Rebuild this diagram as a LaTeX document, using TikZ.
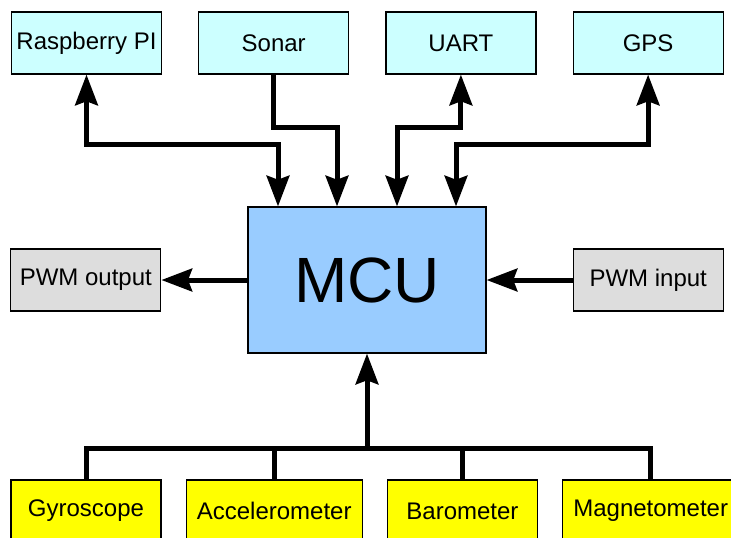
\documentclass[tikz,border=0pt]{standalone}
\usepackage{fontspec}
\setmainfont{Liberation Sans}
\usepackage{xcolor}
\usetikzlibrary{arrows.meta,positioning}

\definecolor{periphfill}{HTML}{CCFFFF}
\definecolor{mcufill}{HTML}{99CCFF}
\definecolor{pwmfill}{HTML}{DDDDDD}
\definecolor{sensorfill}{HTML}{FFFF00}

\begin{document}
\begin{tikzpicture}[
  x=0.75pt, y=-0.75pt,
  node distance=27pt,
  >={Stealth[length=23pt,width=17pt,inset=3pt]},
  box/.style={draw, line width=0.9pt, minimum width=112.5pt, minimum height=46.5pt, inner xsep=2pt, align=center, font=\fontsize{18}{20}\selectfont},
  periph/.style={box, fill=periphfill},
  pwm/.style={box, fill=pwmfill},
  sensor/.style={box, inner xsep=8pt, fill=sensorfill},
  mcubox/.style={draw, line width=0.9pt, fill=mcufill, minimum width=178.5pt, minimum height=109.5pt, font=\fontsize{48}{52}\selectfont},
  arr/.style={line width=3.75pt}
]
  \useasboundingbox (0,0) rectangle (731,537);

  % core
  \node[mcubox] (mcu) at (367,280) {MCU};

  % top row
  \node[periph] (rpi) at (86.5,43) {Raspberry PI};
  \node[periph, right=of rpi] (sonar) {Sonar};
  \node[periph, right=of sonar] (uart) {UART};
  \node[periph, right=of uart] (gps) {GPS};

  % sides
  \node[pwm, left=64.5pt of mcu] (pwmout) {PWM output};
  \node[pwm, right=64.5pt of mcu] (pwmin) {PWM input};

  % sensors
  \node[sensor] (gyro) at (86,511) {Gyroscope};
  \node[sensor, right=18pt of gyro] (accel) {Accelerometer};
  \node[sensor, right=18pt of accel] (baro) {Barometer};
  \node[sensor, right=18pt of baro] (magneto) {Magnetometer};

  \coordinate (outer) at (0,144);
  \coordinate (inner) at (0,127);
  \coordinate (bus) at (0,448);

  \draw[arr, <->] (rpi.south) -- (rpi.south |- outer) -| ([xshift=-66.75pt]mcu.north);
  \draw[arr, ->] (sonar.south) -- (sonar.south |- inner) -| ([xshift=-22.5pt]mcu.north);
  \draw[arr, <->] (uart.south) -- (uart.south |- inner) -| ([xshift=22.5pt]mcu.north);
  \draw[arr, <->] (gps.south) -- (gps.south |- outer) -| ([xshift=66.75pt]mcu.north);

  \draw[arr, ->] (mcu.west) -- (pwmout.east);
  \draw[arr, ->] (pwmin.west) -- (mcu.east);

  \draw[arr] (gyro.north) |- (bus -| magneto.north) -- (magneto.north);
  \draw[arr] (accel.north) -- (accel.north |- bus);
  \draw[arr] (baro.north) -- (baro.north |- bus);
  \draw[arr, ->] (mcu.south |- bus) -- (mcu.south);
\end{tikzpicture}
\end{document}
